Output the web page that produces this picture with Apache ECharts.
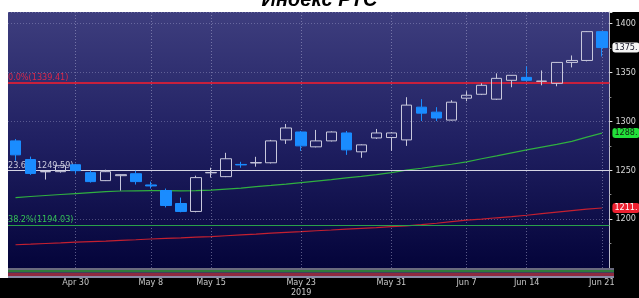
<!DOCTYPE html>
<html>
<head>
<meta charset="utf-8">
<script src="https://cdn.jsdelivr.net/npm/echarts@6/dist/echarts.min.js"></script>
<style>
  html, body { margin: 0; padding: 0; background: #000; }
  #chart { width: 639px; height: 298px; }
</style>
</head>
<body>
<div id="chart"></div>
<script>
// торговые дни
const dates = ['Apr 24','Apr 25','Apr 26','Apr 29','Apr 30','May 2','May 3','May 6','May 7','May 8',
  'May 10','May 13','May 14','May 15','May 16','May 17','May 20','May 21','May 22','May 23',
  'May 24','May 27','May 28','May 29','May 30','May 31','Jun 3','Jun 4','Jun 5','Jun 6',
  'Jun 7','Jun 10','Jun 11','Jun 13','Jun 14','Jun 17','Jun 18','Jun 19','Jun 20','Jun 21'];

// [open, close, low, high]
const ohlc = [
  [1280.1, 1265.8, 1259.7, 1282.0],
  [1261.0, 1246.8, 1245.3, 1264.0],
  [1248.4, 1248.8, 1240.5, 1249.5],
  [1248.6, 1254.7, 1247.6, 1255.7],
  [1255.7, 1249.6, 1246.5, 1256.7],
  [1247.6, 1238.4, 1237.4, 1249.6],
  [1239.4, 1248.6, 1239.0, 1250.6],
  [1244.5, 1245.5, 1229.3, 1245.8],
  [1246.5, 1238.4, 1235.4, 1249.6],
  [1235.0, 1234.0, 1231.3, 1238.4],
  [1229.3, 1214.0, 1212.0, 1231.3],
  [1216.0, 1207.9, 1207.0, 1222.1],
  [1207.9, 1242.5, 1207.0, 1244.5],
  [1247.4, 1247.8, 1242.5, 1252.6],
  [1243.5, 1261.8, 1243.0, 1267.9],
  [1256.0, 1255.5, 1252.6, 1258.7],
  [1257.5, 1257.9, 1253.7, 1263.8],
  [1257.7, 1280.1, 1257.0, 1281.1],
  [1281.1, 1293.3, 1277.0, 1297.4],
  [1289.2, 1275.0, 1269.9, 1290.2],
  [1274.0, 1280.1, 1273.5, 1291.3],
  [1280.1, 1289.2, 1279.5, 1289.8],
  [1288.2, 1270.9, 1265.8, 1290.2],
  [1268.9, 1276.0, 1262.8, 1276.5],
  [1283.1, 1288.2, 1282.1, 1292.3],
  [1283.5, 1288.2, 1269.9, 1289.0],
  [1281.1, 1316.7, 1275.0, 1324.8],
  [1314.6, 1308.5, 1300.4, 1322.8],
  [1309.5, 1303.5, 1300.4, 1314.6],
  [1301.4, 1319.7, 1301.0, 1321.7],
  [1323.8, 1326.8, 1320.7, 1330.9],
  [1327.8, 1337.0, 1327.0, 1339.0],
  [1322.8, 1344.1, 1322.0, 1349.2],
  [1342.1, 1347.2, 1335.0, 1347.5],
  [1345.1, 1342.1, 1341.5, 1356.3],
  [1341.0, 1341.3, 1337.0, 1352.2],
  [1339.0, 1360.4, 1336.0, 1360.8],
  [1360.4, 1362.4, 1355.3, 1367.5],
  [1362.4, 1391.9, 1361.5, 1392.5],
  [1391.9, 1375.6, 1366.5, 1392.2]
];

const maFast = [1222.1, 1223.2, 1224.2, 1225.2, 1226.2, 1227.2, 1228.2, 1228.8, 1229.0, 1229.1,
  1229.1, 1229.0, 1229.2, 1229.8, 1230.8, 1231.8, 1233.3, 1234.5, 1235.8, 1237.4,
  1238.9, 1240.4, 1242.2, 1243.8, 1245.5, 1247.6, 1250.1, 1252.1, 1254.2, 1256.2,
  1258.7, 1261.8, 1264.8, 1267.9, 1270.9, 1273.7, 1276.5, 1279.6, 1284.0, 1288.1];

const maSlow = [1173.8, 1174.4, 1175.1, 1175.7, 1176.4, 1177.0, 1177.6, 1178.3, 1178.9, 1179.7,
  1180.3, 1180.9, 1181.6, 1182.2, 1183.0, 1183.8, 1184.6, 1185.6, 1186.4, 1187.2,
  1188.1, 1188.9, 1189.8, 1190.6, 1191.4, 1192.3, 1193.2, 1194.3, 1195.8, 1197.4,
  1198.9, 1200.1, 1201.4, 1202.6, 1204.0, 1205.6, 1207.2, 1208.8, 1210.3, 1211.4];

// уровни Фибоначчи
const fibNames = ['0.0%', '23.6%', '38.2%', '50.0%'];
const fibValues = [1339.41, 1249.59, 1194.03, 1149.12];
const fibColors = ['#c8203c', '#d4d4e4', '#2aa04a', '#3aa8d0'];
const fibLabelColors = ['#d8284a', '#c8c8dc', '#34c055', '#3ab4e0'];

const labelDates = ['Apr 30', 'May 8', 'May 15', 'May 23', 'May 31', 'Jun 7', 'Jun 14', 'Jun 21'];
const yearLabel = { date: 'May 23', text: '2019' };

const narrow = "'Liberation Sans Narrow', 'DejaVu Sans Condensed', sans-serif";
const last = ohlc.length - 1;

const chart = echarts.init(document.getElementById('chart'));

const fibLines = fibValues.map((v, i) => ({
  yAxis: v,
  lineStyle: { color: fibColors[i], width: i === 0 ? 2 : 1.2, type: 'solid' },
  label: {
    show: true,
    position: 'insideStartTop',
    distance: [0, 1],
    formatter: fibNames[i] + '(' + v.toFixed(2) + ')',
    color: fibLabelColors[i],
    fontSize: 9,
    fontFamily: narrow
  }
}));

const dateLines = labelDates.map(d => ({
  xAxis: d,
  lineStyle: { color: 'rgba(190,190,225,0.45)', width: 1, type: [1, 2] },
  label: { show: false }
}));

// ярлык последнего значения справа от оси
function tag(value, bg, fg) {
  return {
    yAxis: value,
    lineStyle: { color: 'rgba(0,0,0,0)', width: 0 },
    label: {
      show: true,
      position: 'end',
      distance: 3,
      formatter: Math.floor(value) + '.',
      backgroundColor: bg,
      color: fg,
      borderRadius: 3,
      padding: [1, 2, 0, 2],
      fontSize: 9,
      fontFamily: narrow
    }
  };
}

const option = {
  animation: false,
  backgroundColor: '#000',
  title: {
    text: 'Индекс РТС',
    left: 'center',
    top: -15,
    textStyle: { fontSize: 20, fontWeight: 'bold', fontStyle: 'italic', color: '#000', fontFamily: 'Liberation Sans, Arial, sans-serif' }
  },
  graphic: [
    { type: 'rect', shape: { x: 0, y: 0, width: 639, height: 12 }, style: { fill: '#fff' } },
    { type: 'rect', shape: { x: 0, y: 0, width: 8, height: 278 }, style: { fill: '#fff' } },
    // нижняя полоса свернутой панели
    { type: 'rect', z: 100, shape: { x: 8, y: 268, width: 606, height: 2 }, style: { fill: '#6a6a7e' } },
    { type: 'rect', z: 100, shape: { x: 8, y: 270, width: 606, height: 2 }, style: { fill: '#2e7a3c' } },
    { type: 'rect', z: 100, shape: { x: 8, y: 272, width: 606, height: 1 }, style: { fill: '#40405a' } },
    { type: 'rect', z: 100, shape: { x: 8, y: 273, width: 606, height: 3 }, style: { fill: '#8e2a40' } },
    { type: 'rect', z: 100, shape: { x: 8, y: 276, width: 606, height: 2 }, style: { fill: '#8a8aa8' } }
  ],
  grid: {
    left: 8,
    right: 25,
    top: 12,
    bottom: 28,
    show: true,
    borderWidth: 0,
    backgroundColor: new echarts.graphic.LinearGradient(0, 0, 0, 1, [
      { offset: 0, color: '#3e3e7e' },
      { offset: 0.5, color: '#202062' },
      { offset: 1, color: '#04043a' }
    ])
  },
  xAxis: {
    type: 'category',
    data: dates,
    boundaryGap: true,
    axisLine: { show: false },
    axisTick: { show: true, interval: 0, alignWithLabel: true, length: 10, lineStyle: { color: '#8a8a98' } },
    axisLabel: {
      interval: (idx, val) => labelDates.includes(val),
      formatter: val => val === yearLabel.date ? val + '\n' + yearLabel.text : val,
      color: '#c8c8c8',
      fontSize: 9,
      lineHeight: 10,
      margin: 10,
      fontFamily: narrow
    },
    splitLine: { show: false }
  },
  yAxis: {
    type: 'value',
    position: 'right',
    min: 1150,
    max: 1412,
    interval: 50,
    axisLine: { show: true, lineStyle: { color: '#b8b8c8' } },
    axisTick: { show: true, length: 3, lineStyle: { color: '#e0e0e0' } },
    minorTick: { show: true, splitNumber: 2, length: 2, lineStyle: { color: '#888' } },
    axisLabel: {
      showMinLabel: false,
      showMaxLabel: false,
      formatter: v => String(v),
      margin: 6,
      color: '#d8d8d8',
      fontSize: 9,
      fontFamily: narrow
    },
    splitLine: { show: true, lineStyle: { color: 'rgba(190,190,225,0.35)', type: [1, 2] } }
  },
  series: [
    {
      name: 'RTS',
      type: 'candlestick',
      data: ohlc,
      barWidth: 11,
      clip: false,
      z: 5,
      itemStyle: {
        color: 'rgba(0,0,0,0)',
        color0: '#1a8cff',
        borderColor: '#c8c8dc',
        borderColor0: '#1a8cff',
        borderWidth: 1
      },
      markLine: {
        symbol: ['none', 'none'],
        silent: true,
        data: dateLines.concat(fibLines, [tag(ohlc[last][1], '#f4f4f4', '#202030')])
      }
    },
    {
      name: 'MA fast',
      type: 'line',
      data: maFast,
      showSymbol: false,
      lineStyle: { color: '#30b040', width: 1.2 },
      z: 3,
      markLine: {
        symbol: ['none', 'none'],
        silent: true,
        data: [tag(maFast[last], '#22e03a', '#102010')]
      }
    },
    {
      name: 'MA slow',
      type: 'line',
      data: maSlow,
      showSymbol: false,
      lineStyle: { color: '#c42030', width: 1.2 },
      z: 3,
      markLine: {
        symbol: ['none', 'none'],
        silent: true,
        data: [tag(maSlow[last], '#ee2030', '#ffffff')]
      }
    }
  ]
};

chart.setOption(option);
</script>
</body>
</html>
